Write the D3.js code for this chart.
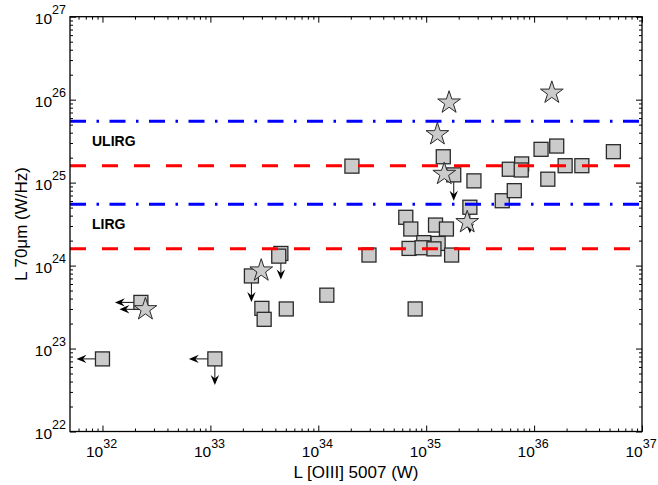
<!DOCTYPE html>
<html>
<head>
<meta charset="utf-8">
<script src="https://cdn.jsdelivr.net/npm/d3@7"></script>
<style>
  body { margin: 0; background: #fff; }
  text { font-family: "Liberation Sans", Arial, Helvetica, sans-serif; }
</style>
</head>
<body>
<div id="chart"></div>
<script>
// squares: L[OIII] (W), L70um (W/Hz), upper-limit arrows
const sqX = [1.0e32, 1.1e33, 2.27e32, 4.5e33, 4.3e33, 2.4e33, 3.0e33, 3.15e33, 5.05e33, 1.2e34,
  2.95e34, 7.9e34, 2.05e34, 1.44e35, 1.8e35, 2.77e35, 2.54e35, 6.47e34, 7.2e34, 1.22e35,
  1.54e35, 9.5e34, 1.29e35, 6.94e34, 9.16e34, 1.18e35, 1.72e35, 5.07e35, 6.55e35, 5.89e35,
  7.67e35, 7.6e35, 1.16e36, 1.62e36, 1.34e36, 1.94e36, 2.77e36, 5.43e36];
const sqY = [7.5e22, 7.5e22, 3.6e23, 1.4e24, 1.3e24, 7.5e23, 3.05e23, 2.25e23, 3.0e23, 4.4e23,
  1.34e24, 3.0e23, 1.58e25, 2.05e25, 1.24e25, 1.05e25, 5.05e24, 3.82e24, 2.76e24, 3.08e24,
  2.76e24, 1.89e24, 1.85e24, 1.61e24, 1.64e24, 1.59e24, 1.34e24, 6.05e24, 8.0e24, 1.45e25,
  1.68e25, 1.42e25, 2.52e25, 2.76e25, 1.1e25, 1.6e25, 1.6e25, 2.36e25];
const sqLimit = ["l", "ld", "l", "d", "", "d", "", "", "", "",
  "", "", "", "", "d", "", "d", "", "", "",
  "", "", "", "", "", "", "", "", "", "",
  "", "", "", "", "", "", "", ""];

const starX = [2.5e32, 2.96e33, 1.63e35, 1.27e35, 1.47e35, 2.4e35, 1.46e36];
const starY = [2.97e23, 8.7e23, 9.2e25, 3.82e25, 1.27e25, 3.33e24, 1.21e26];
const starLimit = ["l", "", "", "", "", "", ""];

// threshold lines
const ulirgBlue = 5.5e25, ulirgRed = 1.6e25;
const lirgBlue = 5.5e24, lirgRed = 1.6e24;

const xDecades = [32, 33, 34, 35, 36, 37];
const yDecades = [22, 23, 24, 25, 26, 27];

const width = 658, height = 485;
const margin = { top: 16.7, right: 16, bottom: 53.5, left: 70 };

const svg = d3.select("#chart").append("svg")
  .attr("width", width).attr("height", height);

const x = d3.scaleLog().domain([5e31, 1e37])
  .range([margin.left, width - margin.right]);
const y = d3.scaleLog().domain([1e22, 1e27])
  .range([height - margin.bottom, margin.top]);

const x0 = margin.left, x1 = width - margin.right;
const y0 = height - margin.bottom, y1 = margin.top;

// minor tick values
function minors(scale) {
  const [a, b] = scale.domain();
  const out = [];
  for (let e = Math.floor(Math.log10(a)); e < Math.log10(b); e++) {
    for (let m = 2; m <= 9; m++) {
      const v = m * Math.pow(10, e);
      if (v >= a && v <= b) out.push(v);
    }
  }
  return out;
}
const xMajor = xDecades.map(e => Math.pow(10, e));
const yMajor = yDecades.map(e => Math.pow(10, e));

function addAxis(axisFn, scale, vals, size, tr) {
  const g = svg.append("g")
    .attr("transform", tr)
    .call(axisFn(scale).tickValues(vals).tickSize(size).tickFormat(""));
  g.select(".domain").remove();
  g.selectAll(".tick line").attr("stroke", "#000").attr("stroke-width", 1);
}
addAxis(d3.axisBottom, x, xMajor, -6, `translate(0,${y0})`);
addAxis(d3.axisBottom, x, minors(x), -3, `translate(0,${y0})`);
addAxis(d3.axisTop, x, xMajor, -6, `translate(0,${y1})`);
addAxis(d3.axisTop, x, minors(x), -3, `translate(0,${y1})`);
addAxis(d3.axisLeft, y, yMajor, -6, `translate(${x0},0)`);
addAxis(d3.axisLeft, y, minors(y), -3, `translate(${x0},0)`);
addAxis(d3.axisRight, y, yMajor, -6, `translate(${x1},0)`);
addAxis(d3.axisRight, y, minors(y), -3, `translate(${x1},0)`);

// tick labels
xDecades.forEach(function (e) {
  const t = svg.append("text")
    .attr("x", x(Math.pow(10, e)) - 16.5)
    .attr("y", y0 + 25.5)
    .attr("font-size", "15.5px");
  t.append("tspan").text("10");
  t.append("tspan").attr("dy", -9).attr("font-size", "12.5px").text(e);
});
yDecades.forEach(function (e) {
  const t = svg.append("text")
    .attr("x", x0 - 4)
    .attr("y", y(Math.pow(10, e)) + 7)
    .attr("text-anchor", "end")
    .attr("font-size", "15.5px");
  t.append("tspan").text("10");
  t.append("tspan").attr("dy", -9.5).attr("font-size", "12.5px").text(e);
});

// axis titles
svg.append("text")
  .attr("x", (x0 + x1) / 2)
  .attr("y", 478)
  .attr("text-anchor", "middle")
  .attr("font-size", "17px")
  .text("L [OIII] 5007 (W)");
svg.append("text")
  .attr("transform", `translate(27,${(y0 + y1) / 2}) rotate(-90)`)
  .attr("text-anchor", "middle")
  .attr("font-size", "17px")
  .text("L 70μm (W/Hz)");

// data points
const squares = sqX.map((v, i) => ({ x: v, y: sqY[i], lim: sqLimit[i] }));
const stars = starX.map((v, i) => ({ x: v, y: starY[i], lim: starLimit[i] }));

const arrowLen = 26;
function drawArrows(data) {
  data.forEach(function (d) {
    const cx = x(d.x), cy = y(d.y);
    const dirs = [];
    if (d.lim.includes("l")) dirs.push([-1, 0]);
    if (d.lim.includes("d")) dirs.push([0, 1]);
    dirs.forEach(function (dir) {
      const tx = cx + dir[0] * arrowLen, ty = cy + dir[1] * arrowLen;
      svg.append("line")
        .attr("x1", cx).attr("y1", cy)
        .attr("x2", tx - dir[0] * 4).attr("y2", ty - dir[1] * 4)
        .attr("stroke", "#111").attr("stroke-width", 1);
      const ang = Math.atan2(dir[1], dir[0]) * 180 / Math.PI;
      svg.append("path")
        .attr("d", "M0,0L-10,-4.2L-6.5,0L-10,4.2Z")
        .attr("transform", `translate(${tx},${ty}) rotate(${ang})`)
        .attr("fill", "#000");
    });
  });
}
drawArrows(squares);
drawArrows(stars);

const sq = 14;
svg.append("g").selectAll("rect")
  .data(squares)
  .enter()
  .append("rect")
  .attr("x", d => x(d.x) - sq / 2)
  .attr("y", d => y(d.y) - sq / 2)
  .attr("width", sq)
  .attr("height", sq)
  .attr("fill", "#cbcbcb")
  .attr("stroke", "#2a2a2a")
  .attr("stroke-width", 1.3);

const starPath = d3.symbol().type(d3.symbolStar).size(160);
svg.append("g").selectAll("path")
  .data(stars)
  .enter()
  .append("path")
  .attr("d", starPath)
  .attr("transform", d => `translate(${x(d.x)},${y(d.y)})`)
  .attr("fill", "#cbcbcb")
  .attr("stroke", "#2a2a2a")
  .attr("stroke-width", 1);

// threshold lines (drawn over points)
function hline(v, color, dash) {
  svg.append("line")
    .attr("x1", x0).attr("x2", x1)
    .attr("y1", y(v)).attr("y2", y(v))
    .attr("stroke", color)
    .attr("stroke-width", 3)
    .attr("stroke-dasharray", dash);
}
hline(ulirgBlue, "#0000ff", "16,10.5,2.5,10.5");
hline(lirgBlue, "#0000ff", "16,10.5,2.5,10.5");
hline(ulirgRed, "#ff0000", "16,16");
hline(lirgRed, "#ff0000", "16,16");

svg.append("text")
  .attr("x", x0 + 22).attr("y", y(ulirgBlue) + 25)
  .attr("font-size", "14px").attr("font-weight", "bold")
  .text("ULIRG");
svg.append("text")
  .attr("x", x0 + 22).attr("y", y(lirgBlue) + 25)
  .attr("font-size", "14px").attr("font-weight", "bold")
  .text("LIRG");

// frame
svg.append("rect")
  .attr("x", x0).attr("y", y1)
  .attr("width", x1 - x0).attr("height", y0 - y1)
  .attr("fill", "none")
  .attr("stroke", "#000")
  .attr("stroke-width", 1.3);
</script>
</body>
</html>
